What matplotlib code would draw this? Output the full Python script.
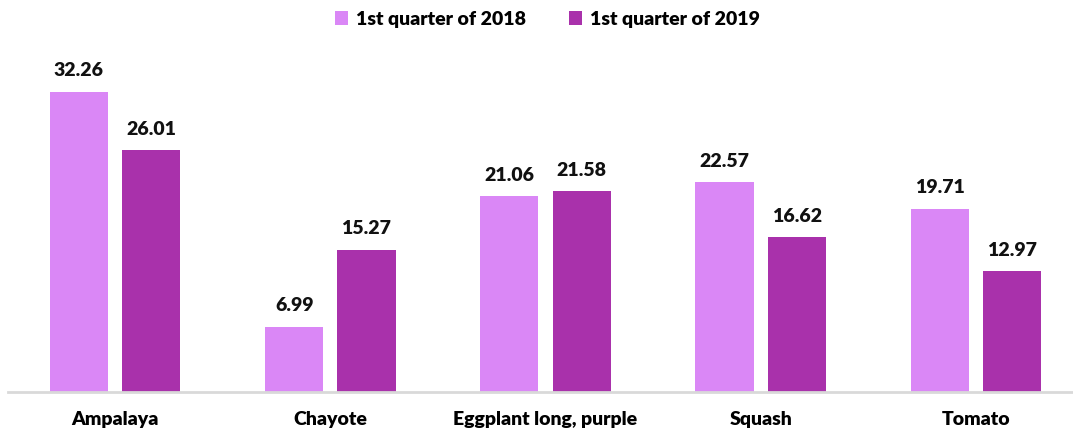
import numpy as np
import matplotlib.pyplot as plt

plt.rcParams['font.family'] = ['Lato', 'DejaVu Sans']

categories = ['Ampalaya', 'Chayote', 'Eggplant long, purple', 'Squash', 'Tomato']
q1_2018 = [32.26, 6.99, 21.06, 22.57, 19.71]
q1_2019 = [26.01, 15.27, 21.58, 16.62, 12.97]
series_labels = ['1st quarter of 2018', '1st quarter of 2019']

color_2018 = '#DA87F6'
color_2019 = '#A931AB'

fig = plt.figure(figsize=(10.73, 4.37), dpi=100)
ax = fig.add_axes([7.5 / 1073, 45 / 437, 1076 / 1073, (392 - 45) / 437])

x = np.arange(len(categories))
width = 0.27
offset = 0.168

bars1 = ax.bar(x - offset, q1_2018, width, color=color_2018, label=series_labels[0])
bars2 = ax.bar(x + offset, q1_2019, width, color=color_2019, label=series_labels[1])

for bars in (bars1, bars2):
    for b in bars:
        ax.annotate(f'{b.get_height():.2f}', (b.get_x() + b.get_width() / 2, b.get_height()),
                    xytext=(0, 9), textcoords='offset points', ha='center', va='bottom',
                    fontsize=14, fontweight='heavy', color='#111111')

ax.set_xlim(-0.5, len(categories) - 0.5)
ax.set_ylim(0, 37.3)
ax.set_xticks(x)
ax.set_xticklabels(categories, fontsize=14, fontweight='heavy')
ax.tick_params(axis='x', length=0, pad=14)
ax.set_yticks([])

for side in ['top', 'right', 'left']:
    ax.spines[side].set_visible(False)
ax.spines['bottom'].set_color('#d9d9d9')
ax.spines['bottom'].set_linewidth(2)

leg = fig.legend(loc='upper center', bbox_to_anchor=(0.51, 1.015), ncol=2, frameon=False,
                 prop={'size': 14, 'weight': 'heavy'}, handlelength=0.7, handleheight=0.7,
                 handletextpad=0.4, columnspacing=2.2)

fig.savefig('out.png', dpi=100)
